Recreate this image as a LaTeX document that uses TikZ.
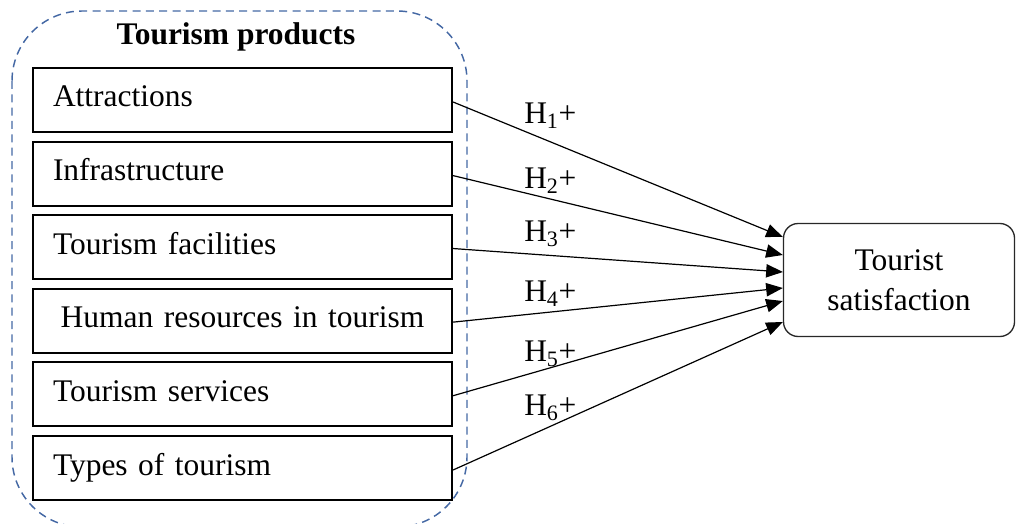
\documentclass[tikz,border=0pt]{standalone}
\usepackage{fontspec}
\setmainfont{Liberation Serif}
\usetikzlibrary{arrows.meta}
\definecolor{dashblue}{RGB}{68,104,164}
\definecolor{tsline}{RGB}{40,40,40}
\begin{document}
\begin{tikzpicture}[x=0.75pt,y=-0.75pt,
  txt/.style={font=\fontsize{23.6}{30}\selectfont},
  prodbox/.style={draw, line width=1.6pt, minimum width=314.25pt, minimum height=48pt,
    text width=284.25pt, inner xsep=15pt, inner ysep=0pt, align=left,
    text height=16pt, text depth=5.5pt, txt},
  tsbox/.style={draw=tsline, line width=1pt, rounded corners=11pt, minimum width=173.25pt,
    minimum height=84.75pt, align=center, txt},
  lab/.style={inner sep=0pt, anchor=west, txt},
  arr/.style={line width=0.9pt, -{Triangle[length=12.5pt,width=10pt]}},
  group/.style={dashblue, line width=1.1pt, dash pattern=on 6pt off 4pt, rounded corners=52.5pt}
]
\useasboundingbox (0,0) rectangle (1016,524);
\draw[group] (12,11) rectangle (467,527);
\node[txt, font=\fontsize{23.6}{30}\selectfont\bfseries, anchor=base] (title) at (236,45) {Tourism products};
\node[prodbox] (a1) at (242.5,100) {Attractions};
\node[prodbox] (a2) at (242.5,173.6) {Infrastructure};
\node[prodbox] (a3) at (242.5,247.2) {Tourism facilities};
\node[prodbox, align=center] (a4) at (242.5,320.8) {Human resources in tourism};
\node[prodbox] (a5) at (242.5,394.4) {Tourism services};
\node[prodbox] (a6) at (242.5,468) {Types of tourism};
\node[tsbox] (ts) at (899,280) {Tourist\\satisfaction};
\draw[arr] ([yshift=-1.5pt]a1.east) -- ([yshift=32.25pt]ts.west);
\draw[arr] ([yshift=-1.5pt]a2.east) -- ([yshift=18.75pt]ts.west);
\draw[arr] ([yshift=-1pt]a3.east) -- ([yshift=6pt]ts.west);
\draw[arr] ([yshift=-1pt]a4.east) -- ([yshift=-6pt]ts.west);
\draw[arr] ([yshift=-1pt]a5.east) -- ([yshift=-15.75pt]ts.west);
\draw[arr] ([yshift=-1.5pt]a6.east) -- ([yshift=-31.5pt]ts.west);
\node[lab] (h1) at (524,116) {H\textsubscript{1}+};
\node[lab] (h2) at (524,181) {H\textsubscript{2}+};
\node[lab] (h3) at (524,234) {H\textsubscript{3}+};
\node[lab] (h4) at (524,294) {H\textsubscript{4}+};
\node[lab] (h5) at (524,354) {H\textsubscript{5}+};
\node[lab] (h6) at (524,408) {H\textsubscript{6}+};
\end{tikzpicture}
\end{document}
